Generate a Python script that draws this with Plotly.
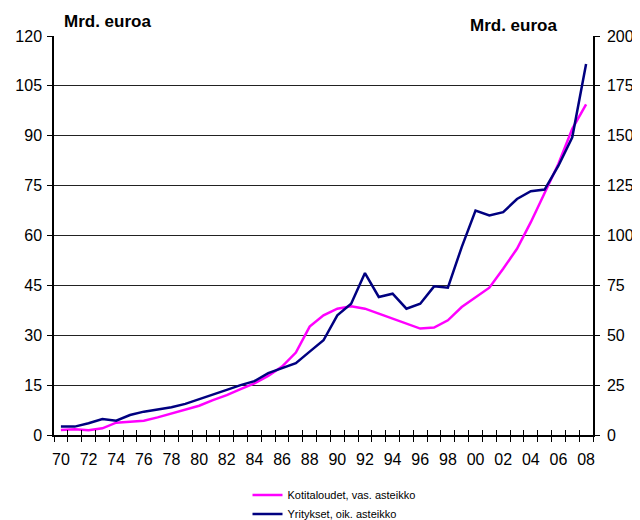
import plotly.graph_objects as go

years = list(range(1970, 2009))
tick_years = list(range(1970, 2009, 2))
tick_labels = [f"{y % 100:02d}" for y in tick_years]

# Kotitaloudet (households), left axis, billion euro
households = [1.5, 1.7, 1.4, 2.0, 3.7, 4.0, 4.3, 5.3, 6.5, 7.7,
              8.8, 10.5, 12.0, 13.8, 15.5, 17.8, 20.6, 24.8, 32.6, 36.0,
              38.0, 38.7, 38.0, 36.5, 35.0, 33.7, 32.0, 32.3, 34.5, 38.5,
              41.5, 44.3, 50.0, 56.0, 64.0, 73.0, 81.6, 92.1, 99.4]

# Yritykset (companies), right axis, billion euro
companies = [4.2, 4.2, 5.9, 8.0, 7.2, 10.0, 11.7, 12.9, 13.9, 15.6,
             17.9, 20.0, 22.6, 25.0, 27.0, 31.0, 33.4, 36.0, 41.8, 47.5,
             60.0, 65.8, 81.2, 69.2, 70.8, 63.3, 65.8, 74.5, 73.8, 94.2,
             112.5, 110.0, 111.7, 118.3, 122.2, 123.0, 135.0, 149.2, 186.0]

left_ticks = list(range(0, 121, 15))
right_ticks = list(range(0, 201, 25))
boundaries = [y + 0.5 for y in range(1969, 2009)]

FONT = "Liberation Sans, Arial, sans-serif"

fig = go.Figure()
fig.add_trace(go.Scatter(x=years, y=households, mode="lines",
                         name="Kotitaloudet, vas. asteikko",
                         line=dict(color="#FF00FF", width=2.5)))
fig.add_trace(go.Scatter(x=years, y=companies, mode="lines",
                         name="Yritykset, oik. asteikko", yaxis="y2",
                         line=dict(color="#000080", width=2.5)))

fig.update_layout(
    width=640, height=520,
    margin=dict(l=46, r=55, t=28, b=93, autoexpand=False),
    paper_bgcolor="white", plot_bgcolor="white",
    font=dict(family=FONT, size=16, color="black"),
    showlegend=True,
    legend=dict(orientation="v", x=0.359, xanchor="left", y=-0.114, yanchor="top",
                font=dict(family=FONT, size=11, color="black"),
                bgcolor="rgba(0,0,0,0)", tracegroupgap=0),
    xaxis=dict(range=[1969.5, 2008.5], tickmode="array", tickvals=tick_years,
               ticktext=tick_labels, ticks="", showgrid=False, zeroline=False,
               showline=True, linecolor="black", linewidth=1.5,
               tickfont=dict(size=16), automargin=False, ticklabelstandoff=9,
               minor=dict(tickmode="array", tickvals=boundaries, ticks="outside",
                          ticklen=5, tickcolor="black", tickwidth=1.2, showgrid=False)),
    xaxis2=dict(range=[1969.5, 2008.5], overlaying="x", anchor="y",
                tickmode="array", tickvals=boundaries, ticks="inside", ticklen=5,
                tickcolor="black", tickwidth=1.2, showticklabels=False,
                showgrid=False, zeroline=False, showline=False, automargin=False),
    yaxis=dict(range=[0, 120], tickmode="array", tickvals=left_ticks,
               showgrid=True, gridcolor="#222", gridwidth=1.2, zeroline=False,
               showline=True, linecolor="black", linewidth=1.5,
               ticks="outside", ticklen=5, tickcolor="black", tickwidth=1.2,
               tickfont=dict(size=16), automargin=False, ticklabelstandoff=2),
    yaxis2=dict(range=[0, 200], tickmode="array", tickvals=right_ticks,
                overlaying="y", side="right", showgrid=False, zeroline=False,
                showline=True, linecolor="black", linewidth=1.5,
                ticks="outside", ticklen=5, tickcolor="black", tickwidth=1.2,
                tickfont=dict(size=16), automargin=False, ticklabelstandoff=4),
    annotations=[
        dict(text="<b>Mrd. euroa</b>", xref="paper", yref="paper", x=0.015, y=1.0,
             xanchor="left", yanchor="bottom", yshift=3, showarrow=False,
             font=dict(size=17)),
        dict(text="<b>Mrd. euroa</b>", xref="paper", yref="paper", x=0.937, y=1.0,
             xanchor="right", yanchor="bottom", yshift=-1, showarrow=False,
             font=dict(size=17)),
    ],
)
# dummy trace so xaxis2 is drawn
fig.add_trace(go.Scatter(x=[1969.5], y=[None], xaxis="x2", showlegend=False,
                         hoverinfo="skip"))

fig.write_html("out.html")
